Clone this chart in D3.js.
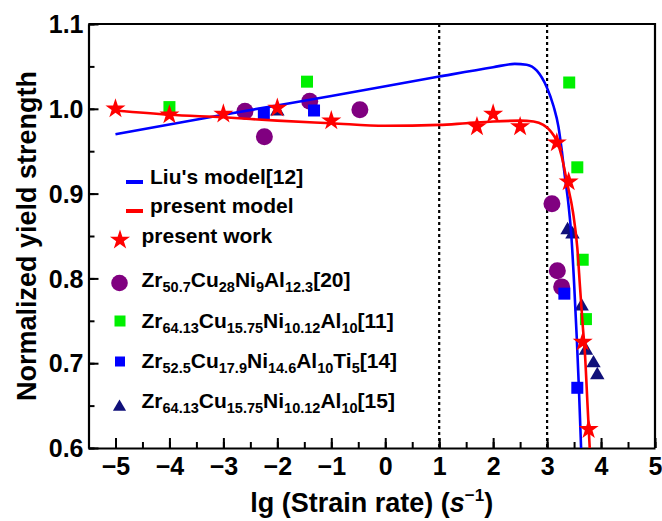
<!DOCTYPE html>
<html>
<head>
<meta charset="utf-8">
<script src="https://cdn.jsdelivr.net/npm/d3@7"></script>
<style>
  body { margin: 0; background: white; }
  svg text { font-family: "Liberation Sans", Arial, sans-serif; font-weight: bold; }
</style>
</head>
<body>
<div id="plot"></div>
<script>
// ---- data ----
const xTicks = [-5, -4, -3, -2, -1, 0, 1, 2, 3, 4, 5];
const yTicks = [0.6, 0.7, 0.8, 0.9, 1.0, 1.1];
const dividers = [1, 3]; // dotted vertical lines

// Liu's model [12]
const liuX = [-5, -3, -1, 1, 2, 2.4, 2.62, 2.81, 2.99, 3.12, 3.21, 3.27, 3.33, 3.40, 3.45, 3.50, 3.55, 3.59, 3.63];
const liuY = [0.970, 0.993, 1.015, 1.038, 1.049, 1.053, 1.052, 1.045, 1.026, 1.003, 0.979, 0.952, 0.920, 0.885, 0.850, 0.795, 0.730, 0.670, 0.600];

// present model
const modelX = [-5, -4, -3, -2, -1, 0, 1, 1.5, 2, 2.5, 2.75, 2.93, 3.06, 3.18, 3.27, 3.37, 3.48, 3.56, 3.61, 3.66, 3.70, 3.75, 3.79];
const modelY = [0.998, 0.993, 0.990, 0.986, 0.983, 0.980, 0.981, 0.983, 0.985, 0.986, 0.985, 0.981, 0.974, 0.962, 0.944, 0.913, 0.878, 0.836, 0.790, 0.745, 0.713, 0.650, 0.600];

// present work (stars)
const workX = [-5, -4, -3, -2, -1, 1.7, 2.0, 2.5, 3.18, 3.40, 3.66, 3.77];
const workY = [1.000, 0.993, 0.994, 1.001, 0.986, 0.979, 0.994, 0.979, 0.960, 0.914, 0.725, 0.622];

// Zr50.7Cu28Ni9Al12.3 [20]
const ref20X = [-2.60, -2.24, -1.40, -0.47, 3.09, 3.19, 3.27];
const ref20Y = [0.997, 0.967, 1.009, 0.999, 0.888, 0.809, 0.790];

// Zr64.13Cu15.75Ni10.12Al10 [11]
const ref11X = [-4.0, -1.45, 3.41, 3.56, 3.66, 3.72];
const ref11Y = [1.002, 1.032, 1.031, 0.931, 0.822, 0.752];

// Zr52.5Cu17.9Ni14.6Al10Ti5 [14]
const ref14X = [-2.25, -1.32, 3.32, 3.56];
const ref14Y = [0.994, 0.998, 0.782, 0.671];

// Zr64.13Cu15.75Ni10.12Al10 [15]
const ref15X = [-2.0, 3.38, 3.47, 3.64, 3.72, 3.86, 3.93];
const ref15Y = [0.997, 0.857, 0.852, 0.767, 0.715, 0.700, 0.686];

function zip(xs, ys) { return xs.map((x, i) => ({x: x, y: ys[i]})); }

function plot() {
    const svgwidth = 662;
    const svgheight = 521;
    const margin = {top: 24, bottom: 73, left: 88.5, right: 7};

    const tick_size = 25;
    const label_size = 27;
    const legend_size = 21;
    const sub_size = 14.5;

    const c_liu = "#0000ff", c_model = "#ff0000", c_purple = "#800080",
          c_green = "#00f000", c_blue = "#0000ff", c_navy = "#10107a";

    let xScale = d3.scaleLinear().domain([-5.5, 5]).range([margin.left, svgwidth - margin.right]);
    let yScale = d3.scaleLinear().domain([0.6, 1.1]).range([svgheight - margin.bottom, margin.top]);

    let svg = d3.select("#plot").append("svg")
        .attr("width", svgwidth)
        .attr("height", svgheight);

    // clip for the curves
    svg.append("clipPath").attr("id", "clip").append("rect")
        .attr("x", xScale(-5.5)).attr("y", yScale(1.1))
        .attr("width", xScale(5) - xScale(-5.5)).attr("height", yScale(0.6) - yScale(1.1));

    // dotted dividers
    svg.append("g").selectAll("line")
        .data(dividers).enter().append("line")
        .attr("x1", d => xScale(d)).attr("x2", d => xScale(d))
        .attr("y1", yScale(1.1)).attr("y2", yScale(0.6))
        .style("stroke", "black")
        .style("stroke-width", 2.2)
        .style("stroke-dasharray", "3,3");

    // minor ticks (inward)
    let xMinor = d3.range(-5.5, 5.01, 0.5);
    let yMinor = d3.range(0.6, 1.101, 0.05);
    svg.append("g")
        .attr("transform", `translate(0,${yScale(0.6)})`)
        .call(d3.axisBottom(xScale).tickValues(xMinor).tickSize(-6).tickSizeOuter(0).tickFormat(""))
        .call(g => g.select(".domain").remove())
        .selectAll("line").style("stroke-width", 2);
    svg.append("g")
        .attr("transform", `translate(${xScale(-5.5)},0)`)
        .call(d3.axisLeft(yScale).tickValues(yMinor).tickSize(-6).tickSizeOuter(0).tickFormat(""))
        .call(g => g.select(".domain").remove())
        .selectAll("line").style("stroke-width", 2);

    // main axes
    let x_ax = svg.append("g")
        .attr("transform", `translate(0,${yScale(0.6)})`)
        .call(d3.axisBottom(xScale).tickValues(xTicks).tickSize(-10).tickSizeOuter(0).tickPadding(9));
    let y_ax = svg.append("g")
        .attr("transform", `translate(${xScale(-5.5)},0)`)
        .call(d3.axisLeft(yScale).tickValues(yTicks).tickFormat(d3.format(".1f")).tickSize(-10).tickSizeOuter(0).tickPadding(5));
    [x_ax, y_ax].forEach(ax => {
        ax.selectAll("line").style("stroke-width", 2);
        ax.select(".domain").style("stroke-width", 2.2);
        ax.selectAll("text")
            .style("font-size", tick_size + "px")
            .style("font-family", "Liberation Sans, Arial, sans-serif")
            .style("font-weight", "bold")
            .attr("fill", "black");
    });
    y_ax.selectAll("text").attr("dy", "0.35em");

    // top / right border
    svg.append("path")
        .attr("d", `M${xScale(-5.5)},${yScale(1.1)}H${xScale(5)}V${yScale(0.6)}`)
        .style("fill", "none")
        .style("stroke", "black")
        .style("stroke-width", 2.2);

    // axis titles
    let xt = svg.append("text")
        .attr("x", (xScale(-5.5) + xScale(5)) / 2)
        .attr("y", 512)
        .attr("text-anchor", "middle")
        .style("font-size", label_size + "px");
    xt.append("tspan").text("lg (Strain rate) (");
    xt.append("tspan").text("s").style("font-style", "italic");
    xt.append("tspan").text("\u22121").attr("dy", -11).style("font-size", "17px");
    xt.append("tspan").text(")").attr("dy", 11);

    svg.append("text")
        .text("Normalized yield strength")
        .attr("transform", `translate(36,${(yScale(0.6) + yScale(1.1)) / 2}) rotate(-90)`)
        .attr("text-anchor", "middle")
        .style("font-size", label_size + "px");

    // markers
    let marks = svg.append("g").attr("class", "marks");
    marks.selectAll(".c20").data(zip(ref20X, ref20Y)).enter().append("circle")
        .attr("cx", d => xScale(d.x)).attr("cy", d => yScale(d.y)).attr("r", 8.5)
        .style("fill", c_purple);
    marks.selectAll(".s11").data(zip(ref11X, ref11Y)).enter().append("rect")
        .attr("x", d => xScale(d.x) - 6).attr("y", d => yScale(d.y) - 6)
        .attr("width", 12).attr("height", 12)
        .style("fill", c_green);
    marks.selectAll(".s14").data(zip(ref14X, ref14Y)).enter().append("rect")
        .attr("x", d => xScale(d.x) - 6).attr("y", d => yScale(d.y) - 6)
        .attr("width", 12).attr("height", 12)
        .style("fill", c_blue);
    let tri = d3.symbol().type(d3.symbolTriangle).size(90);
    marks.selectAll(".t15").data(zip(ref15X, ref15Y)).enter().append("path")
        .attr("d", tri)
        .attr("transform", d => `translate(${xScale(d.x)},${yScale(d.y)})`)
        .style("fill", c_navy);

    // model curves
    let line = d3.line().x(d => xScale(d.x)).y(d => yScale(d.y)).curve(d3.curveMonotoneX);
    let curves = svg.append("g").attr("clip-path", "url(#clip)");
    curves.append("path").datum(zip(liuX, liuY))
        .attr("d", line)
        .style("fill", "none").style("stroke", c_liu).style("stroke-width", 2.6);
    curves.append("path").datum(zip(modelX, modelY))
        .attr("d", line)
        .style("fill", "none").style("stroke", c_model).style("stroke-width", 2.6);

    // stars on top
    let star = d3.symbol().type(d3.symbolStar).size(125);
    svg.append("g").selectAll("path").data(zip(workX, workY)).enter().append("path")
        .attr("d", star)
        .attr("transform", d => `translate(${xScale(d.x)},${yScale(d.y)})`)
        .style("fill", c_model);

    // legend
    let legend = svg.append("g").attr("class", "legend").style("font-size", legend_size + "px");
    legend.append("rect").attr("x", 126).attr("y", 180).attr("width", 17).attr("height", 4).style("fill", c_liu);
    legend.append("text").text("Liu's model[12]").attr("x", 150).attr("y", 183.5);
    legend.append("rect").attr("x", 126).attr("y", 209).attr("width", 17).attr("height", 4).style("fill", c_model);
    legend.append("text").text("present model").attr("x", 150).attr("y", 213);
    legend.append("path").attr("d", star).attr("transform", "translate(120,240)").style("fill", c_model);
    legend.append("text").text("present work").attr("x", 141.5).attr("y", 243);

    // formula labels: plain strings are normal text, {s: ...} are subscripts
    let add_formula = (parts, y) => {
        let t = legend.append("text").attr("x", 141.5).attr("y", y);
        let sub = false;
        parts.forEach(p => {
            let isSub = typeof p === "object";
            let s = t.append("tspan").text(isSub ? p.s : p);
            if (isSub && !sub) s.attr("dy", 5);
            if (!isSub && sub) s.attr("dy", -5);
            if (isSub) s.style("font-size", sub_size + "px");
            sub = isSub;
        });
    };
    legend.append("circle").attr("cx", 119.5).attr("cy", 283).attr("r", 8.3).style("fill", c_purple);
    add_formula(["Zr", {s: "50.7"}, "Cu", {s: "28"}, "Ni", {s: "9"}, "Al", {s: "12.3"}, "[20]"], 287);
    legend.append("rect").attr("x", 114.5).attr("y", 315.5).attr("width", 11).attr("height", 11).style("fill", c_green);
    add_formula(["Zr", {s: "64.13"}, "Cu", {s: "15.75"}, "Ni", {s: "10.12"}, "Al", {s: "10"}, "[11]"], 328);
    legend.append("rect").attr("x", 115).attr("y", 356.5).attr("width", 10).attr("height", 10).style("fill", c_blue);
    add_formula(["Zr", {s: "52.5"}, "Cu", {s: "17.9"}, "Ni", {s: "14.6"}, "Al", {s: "10"}, "Ti", {s: "5"}, "[14]"], 368);
    legend.append("path").attr("d", d3.symbol().type(d3.symbolTriangle).size(75)).attr("transform", "translate(119.5,407)").style("fill", c_navy);
    add_formula(["Zr", {s: "64.13"}, "Cu", {s: "15.75"}, "Ni", {s: "10.12"}, "Al", {s: "10"}, "[15]"], 408);
}

plot();
</script>
</body>
</html>
